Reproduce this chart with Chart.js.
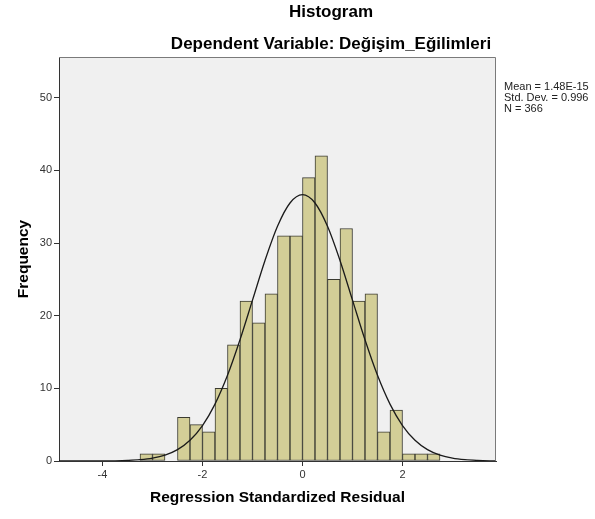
<!DOCTYPE html>
<html>
<head>
<meta charset="utf-8">
<script src="https://cdn.jsdelivr.net/npm/chart.js@4.4.1/dist/chart.umd.min.js"></script>
<style>
  html, body { margin: 0; padding: 0; background: #ffffff; }
  #wrap { width: 595px; height: 519px; }
</style>
</head>
<body>
<div id="wrap"><canvas id="c" width="595" height="519"></canvas></div>
<script>
// ---- data ----
const chartTitle = "Histogram";
const chartSubtitle = "Dependent Variable: Değişim_Eğilimleri";
const xAxisTitle = "Regression Standardized Residual";
const yAxisTitle = "Frequency";
const statsLines = ["Mean = 1.48E-15", "Std. Dev. = 0.996", "N = 366"];

// bin centres (bin width 0.25)
const binCenters = [-3.125, -2.875, -2.625, -2.375, -2.125, -1.875, -1.625, -1.375,
                    -1.125, -0.875, -0.625, -0.375, -0.125, 0.125, 0.375, 0.625,
                    0.875, 1.125, 1.375, 1.625, 1.875, 2.125, 2.375, 2.625];
const frequencies = [1, 1, 0, 6, 5, 4, 10, 16,
                     22, 19, 23, 31, 31, 39, 42, 25,
                     32, 22, 23, 4, 7, 1, 1, 1];

// normal curve, read at steps of 0.25
const curveX = [-5, -4.75, -4.5, -4.25, -4, -3.75, -3.5, -3.25, -3, -2.75, -2.5, -2.25,
                -2, -1.75, -1.5, -1.25, -1, -0.75, -0.5, -0.25, 0, 0.25, 0.5, 0.75,
                1, 1.25, 1.5, 1.75, 2, 2.25, 2.5, 2.75, 3, 3.25, 3.5, 3.75, 4];
const curveY = [0, 0, 0, 0, 0.01, 0.03, 0.08, 0.18, 0.39, 0.81, 1.57, 2.86,
                4.88, 7.83, 11.79, 16.68, 22.14, 27.6, 32.31, 35.51, 36.65, 35.51, 32.31, 27.6,
                22.14, 16.68, 11.79, 7.83, 4.88, 2.86, 1.57, 0.81, 0.39, 0.18, 0.08, 0.03, 0.01];

const xTickValues = [-4, -2, 0, 2];
const yTickValues = [0, 10, 20, 30, 40, 50];
const xRange = [-4.87, 3.87];
const yRange = [0, 55.6];

// ---- chart ----
const FONT = '"Liberation Sans", Arial, sans-serif';

const decorPlugin = {
  id: 'decor',
  beforeDraw(chart) {
    const { ctx, chartArea: a } = chart;
    ctx.save();
    ctx.fillStyle = '#f0f0f0';
    ctx.fillRect(a.left, a.top, a.right - a.left, a.bottom - a.top);
    ctx.restore();
  },
  afterDatasetsDraw(chart) {
    const { ctx, chartArea: a } = chart;
    ctx.save();
    ctx.strokeStyle = '#7a7a7a';
    ctx.lineWidth = 1;
    ctx.beginPath();
    ctx.moveTo(a.left, a.top + 0.5);
    ctx.lineTo(a.right - 0.5, a.top + 0.5);
    ctx.lineTo(a.right - 0.5, a.bottom);
    ctx.stroke();
    ctx.restore();
  },
  afterDraw(chart) {
    const { ctx } = chart;
    ctx.save();
    ctx.fillStyle = '#000000';
    ctx.textAlign = 'center';
    ctx.textBaseline = 'middle';
    ctx.font = 'bold 17px ' + FONT;
    ctx.fillText(chartTitle, 331, 12);
    ctx.fillText(chartSubtitle, 331, 44);
    ctx.textAlign = 'left';
    ctx.font = '11px ' + FONT;
    ctx.fillStyle = '#222222';
    statsLines.forEach((t, i) => ctx.fillText(t, 504, 87 + i * 11));
    ctx.restore();
  }
};

new Chart(document.getElementById('c'), {
  type: 'bar',
  data: {
    datasets: [
      {
        type: 'line',
        order: 0,
        data: curveX.map((x, i) => ({ x: x, y: curveY[i] })),
        borderColor: '#1a1a1a',
        borderWidth: 1.3,
        pointRadius: 0,
        fill: false,
        cubicInterpolationMode: 'monotone'
      },
      {
        type: 'bar',
        order: 1,
        data: binCenters.map((x, i) => ({ x: x, y: frequencies[i] })),
        backgroundColor: '#d3ce97',
        borderColor: '#3a3a30',
        borderWidth: 1,
        borderSkipped: false,
        barPercentage: 1,
        categoryPercentage: 1
      }
    ]
  },
  options: {
    responsive: false,
    animation: false,
    events: [],
    layout: { padding: { top: 57, right: 99, left: 0, bottom: 0 } },
    plugins: { legend: { display: false }, tooltip: { enabled: false }, title: { display: false } },
    scales: {
      x: {
        type: 'linear',
        min: xRange[0],
        max: xRange[1],
        offset: false,
        afterBuildTicks(scale) { scale.ticks = xTickValues.map(v => ({ value: v })); },
        afterFit(scale) { scale.height = 58; },
        ticks: { font: { family: FONT, size: 11 }, color: '#333333', padding: 2, maxRotation: 0, autoSkip: false },
        grid: { offset: false, drawOnChartArea: false, drawTicks: true, tickLength: 5, color: '#333333' },
        border: { display: true, color: '#333333', width: 1 },
        title: { display: true, text: xAxisTitle, font: { family: FONT, size: 15.5, weight: 'bold' }, color: '#000000', padding: { top: 0, bottom: 12 } }
      },
      y: {
        min: yRange[0],
        max: yRange[1],
        afterBuildTicks(scale) { scale.ticks = yTickValues.map(v => ({ value: v })); },
        afterFit(scale) { scale.width = 59; },
        ticks: { font: { family: FONT, size: 11 }, color: '#333333', padding: 2 },
        grid: { drawOnChartArea: false, drawTicks: true, tickLength: 5, color: '#333333' },
        border: { display: true, color: '#333333', width: 1 },
        title: { display: true, text: yAxisTitle, font: { family: FONT, size: 15.5, weight: 'bold' }, color: '#000000', padding: { top: 14, bottom: 0 } }
      }
    }
  },
  plugins: [decorPlugin]
});
</script>
</body>
</html>
